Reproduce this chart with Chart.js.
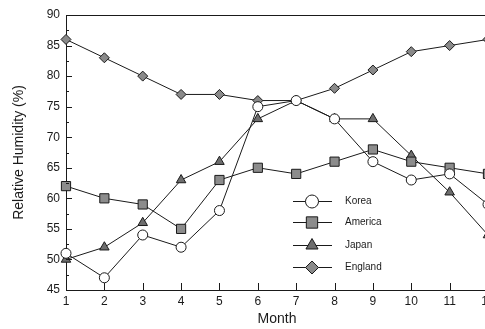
<!DOCTYPE html>
<html>
<head>
<meta charset="utf-8">
<script src="https://cdn.jsdelivr.net/npm/chart.js@4"></script>
<style>
  html, body { margin: 0; padding: 0; background: #fff; overflow: hidden; }
  #wrap { width: 510px; height: 329px; }
</style>
</head>
<body>
<div id="wrap"><canvas id="humidity" width="510" height="329"></canvas></div>
<script>
const months = [1, 2, 3, 4, 5, 6, 7, 8, 9, 10, 11, 12]
const korea = [51, 47, 54, 52, 58, 75, 76, 73, 66, 63, 64, 59]
const america = [62, 60, 59, 55, 63, 65, 64, 66, 68, 66, 65, 64]
const japan = [50, 52, 56, 63, 66, 73, 76, 73, 73, 67, 61, 54]
const england = [86, 83, 80, 77, 77, 76, 76, 78, 81, 84, 85, 86]

const seriesNames = ['Korea', 'America', 'Japan', 'England']

var ctx = document.getElementById('humidity')

function makeSet(label, values, style, fill, radius) {
  return {
    label: label,
    data: values.map((v, i) => ({ x: months[i], y: v })),
    borderColor: '#1a1a1a',
    borderWidth: 1,
    pointStyle: style,
    pointRadius: radius,
    pointBackgroundColor: fill,
    pointBorderColor: '#1a1a1a',
    pointBorderWidth: 1,
    tension: 0,
    clip: false
  }
}

const data = {
  datasets: [
    makeSet(seriesNames[0], korea, 'circle', '#ffffff', 5),
    makeSet(seriesNames[1], america, 'rect', '#8c8c8c', 6.5),
    makeSet(seriesNames[2], japan, 'triangle', '#6e6e6e', 5.5),
    makeSet(seriesNames[3], england, 'rectRot', '#8a8a8a', 5)
  ]
}

// inward ticks, top frame line and the boxed-in legend
const framePlugin = {
  id: 'frame',
  afterDraw(chart) {
    const c = chart.ctx
    const area = chart.chartArea
    const xs = chart.scales.x
    const ys = chart.scales.y
    c.save()
    c.strokeStyle = '#1a1a1a'
    c.lineWidth = 1
    c.beginPath()
    c.moveTo(area.left, area.top + 0.5)
    c.lineTo(area.right, area.top + 0.5)
    for (let v = 45; v <= 90; v += 2.5) {
      const y = Math.round(ys.getPixelForValue(v)) + 0.5
      const len = v % 5 === 0 ? 6 : 3
      c.moveTo(area.left, y)
      c.lineTo(area.left + len, y)
    }
    months.forEach(m => {
      const x = Math.round(xs.getPixelForValue(m)) + 0.5
      c.moveTo(x, area.bottom)
      c.lineTo(x, area.bottom - 7)
    })
    c.stroke()

    // legend
    const rows = [201, 222, 245, 267]
    c.font = '10px "Liberation Sans", Arial, sans-serif'
    c.textBaseline = 'middle'
    c.fillStyle = '#1a1a1a'
    chart.data.datasets.forEach((ds, i) => {
      const y = rows[i] + 0.5
      c.beginPath()
      c.moveTo(293, y)
      c.lineTo(332, y)
      c.stroke()
      const opts = {
        pointStyle: ds.pointStyle,
        radius: ds.pointRadius + 1.5,
        rotation: 0,
        borderWidth: 1
      }
      c.fillStyle = ds.pointBackgroundColor
      c.strokeStyle = '#1a1a1a'
      Chart.helpers.drawPoint(c, opts, 312, y)
      c.fillStyle = '#1a1a1a'
      c.fillText(ds.label, 345, y)
    })
    c.restore()
  }
}

new Chart(ctx, {
  type: 'line',
  data: data,
  options: {
    responsive: false,
    animation: false,
    layout: { padding: { left: 0, right: 22, top: 15, bottom: 0 } },
    plugins: {
      legend: { display: false },
      tooltip: { enabled: false }
    },
    scales: {
      x: {
        type: 'linear',
        min: 1,
        max: 12,
        afterFit(scale) { scale.height = 39 },
        ticks: {
          stepSize: 1,
          padding: 4,
          color: '#1a1a1a',
          font: { family: '"Liberation Sans", Arial, sans-serif', size: 12 }
        },
        grid: { display: false, drawTicks: false },
        border: { display: true, color: '#1a1a1a', width: 1 },
        title: {
          display: true,
          text: 'Month',
          color: '#1a1a1a',
          padding: { top: 0, bottom: 1 },
          font: { family: '"Liberation Sans", Arial, sans-serif', size: 14 }
        }
      },
      y: {
        min: 45,
        max: 90,
        afterFit(scale) { scale.width = 66 },
        ticks: {
          stepSize: 5,
          padding: 6,
          color: '#1a1a1a',
          font: { family: '"Liberation Sans", Arial, sans-serif', size: 12 }
        },
        grid: { display: false, drawTicks: false },
        border: { display: true, color: '#1a1a1a', width: 1 },
        title: {
          display: true,
          text: 'Relative Humidity (%)',
          color: '#1a1a1a',
          padding: { top: 11, bottom: 0 },
          font: { family: '"Liberation Sans", Arial, sans-serif', size: 14 }
        }
      }
    }
  },
  plugins: [framePlugin]
})
</script>
</body>
</html>
